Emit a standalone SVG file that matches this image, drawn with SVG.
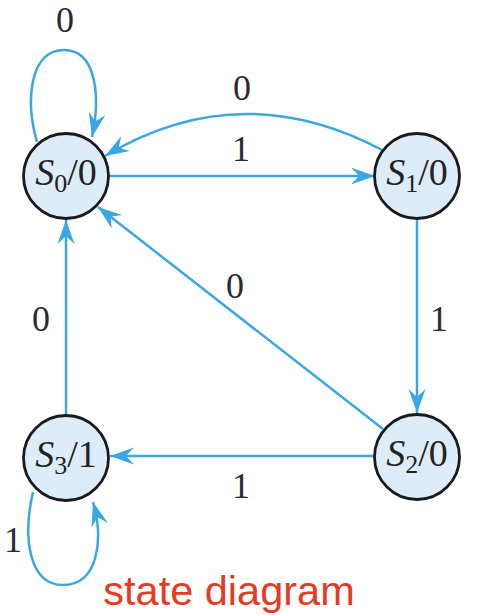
<svg xmlns="http://www.w3.org/2000/svg" width="479" height="615" viewBox="0 0 479 615">
<defs>
<marker id="arr" markerUnits="userSpaceOnUse" markerWidth="30" markerHeight="20" viewBox="-26 -10 28 20" refX="0" refY="0" orient="auto">
<path d="M0,0 L-24,-8.5 L-16,0 L-24,8.5 Z" fill="#3aa6e2"/>
</marker>
</defs>
<style>
.edge{fill:none;stroke:#3aa6e2;stroke-width:2.5;marker-end:url(#arr)}
.node circle{fill:#dcedf9;stroke:#1a1a1a;stroke-width:2.8}
.nt{font-family:"Liberation Serif",serif;font-size:38px;fill:#222;text-anchor:middle}
.lbl{font-family:"Liberation Serif",serif;font-size:36px;fill:#2a2a35;text-anchor:middle}
.title{font-family:"Liberation Sans",Arial,sans-serif;font-size:41.5px;fill:#e53a23;text-anchor:middle}
</style>
<rect width="479" height="615" fill="#ffffff"/>
<g id="connectors">
<path class="edge" d="M37,142 C25,100 30,50 64,50 C98,50 100,100 92,137"/>
<path class="edge" d="M109,176 L375,176"/>
<path class="edge" d="M382,150 Q240,75 105,156"/>
<path class="edge" d="M417,219 L417,413"/>
<path class="edge" d="M383,429 L98,207"/>
<path class="edge" d="M375,456 L110,456"/>
<path class="edge" d="M66,415 L66,220"/>
<path class="edge" d="M33,492 C22,540 30,585 63,585 C98,585 104,540 93,502"/>
</g>
<g id="labels">
<text class="lbl" x="65" y="32">0</text>
<text class="lbl" x="242" y="100">0</text>
<text class="lbl" x="241" y="161">1</text>
<text class="lbl" x="235" y="298">0</text>
<text class="lbl" x="439" y="331">1</text>
<text class="lbl" x="41" y="331">0</text>
<text class="lbl" x="241" y="498">1</text>
<text class="lbl" x="13" y="552">1</text>
</g>
<g id="S0" class="node">
<circle cx="66" cy="176" r="42.5"/>
<text class="nt" x="66" y="185"><tspan font-style="italic">S</tspan><tspan font-size="26" dy="7">0</tspan><tspan dy="-7">/0</tspan></text>
</g>
<g id="S1" class="node">
<circle cx="417" cy="176" r="42.5"/>
<text class="nt" x="417" y="185"><tspan font-style="italic">S</tspan><tspan font-size="26" dy="7">1</tspan><tspan dy="-7">/0</tspan></text>
</g>
<g id="S2" class="node">
<circle cx="417" cy="457" r="42.5"/>
<text class="nt" x="417" y="466"><tspan font-style="italic">S</tspan><tspan font-size="26" dy="7">2</tspan><tspan dy="-7">/0</tspan></text>
</g>
<g id="S3" class="node">
<circle cx="66" cy="458" r="42.5"/>
<text class="nt" x="66" y="467"><tspan font-style="italic">S</tspan><tspan font-size="26" dy="7">3</tspan><tspan dy="-7">/1</tspan></text>
</g>
<text id="title" class="title" x="229" y="605">state diagram</text>
</svg>
